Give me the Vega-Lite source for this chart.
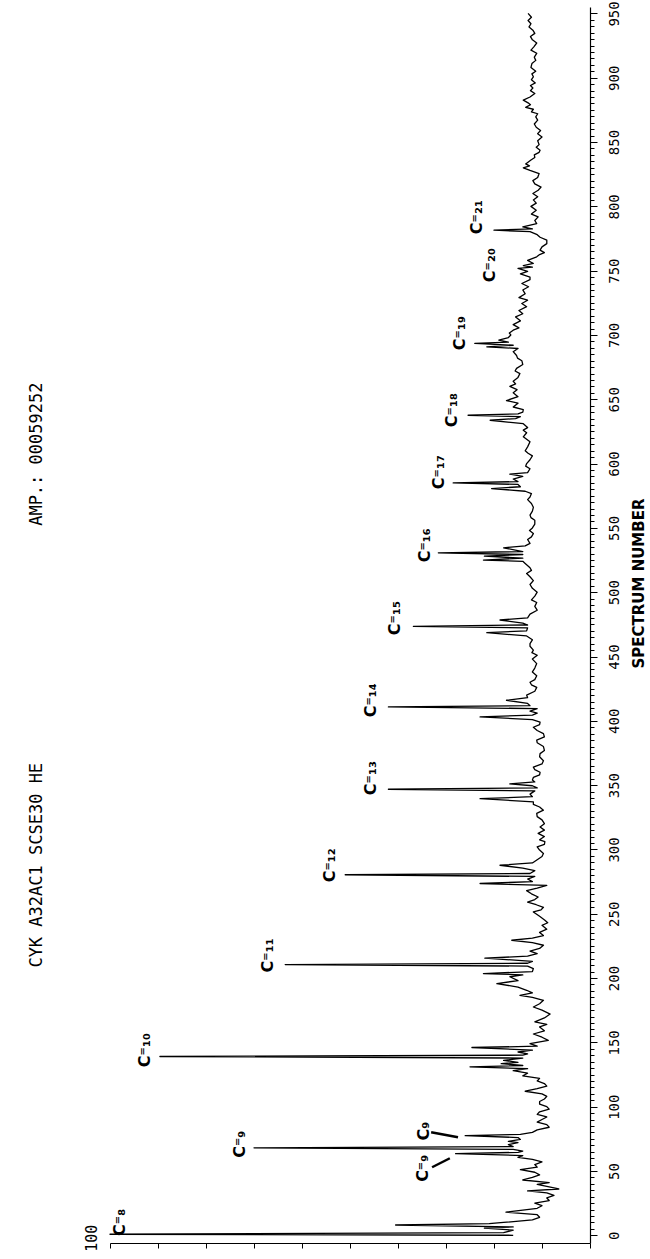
{
  "$schema": "https://vega.github.io/schema/vega-lite/v6.json",
  "width": 480,
  "height": 1236,
  "autosize": {"type": "none"},
  "padding": {"left": 110, "top": 7, "right": 60, "bottom": 16},
  "background": "white",
  "config": {
    "view": {"stroke": null},
    "axis": {"grid": false, "domainColor": "#000", "tickColor": "#000", "labelColor": "#000", "titleColor": "#000", "domainWidth": 1.2, "tickWidth": 1}
  },
  "datasets": {
    "trace": [
      {"spec": 0, "amp": 16}, {"spec": 0.8, "amp": 100}, {"spec": 2, "amp": 18}, {"spec": 4, "amp": 16},
      {"spec": 5.5, "amp": 22}, {"spec": 6.5, "amp": 16}, {"spec": 8, "amp": 40.5}, {"spec": 9, "amp": 21},
      {"spec": 10, "amp": 18}, {"spec": 12, "amp": 12}, {"spec": 14, "amp": 10.5}, {"spec": 16, "amp": 11},
      {"spec": 18, "amp": 17.5}, {"spec": 19.5, "amp": 14}, {"spec": 21, "amp": 11}, {"spec": 23, "amp": 10},
      {"spec": 25, "amp": 11.5}, {"spec": 27, "amp": 8.5}, {"spec": 29, "amp": 9}, {"spec": 31, "amp": 7.5},
      {"spec": 33, "amp": 9}, {"spec": 34.5, "amp": 13}, {"spec": 36, "amp": 6.5}, {"spec": 38, "amp": 9},
      {"spec": 39.5, "amp": 11}, {"spec": 41, "amp": 8.5}, {"spec": 43, "amp": 14}, {"spec": 45, "amp": 12},
      {"spec": 47, "amp": 10.5}, {"spec": 49, "amp": 11.5}, {"spec": 51, "amp": 14.5}, {"spec": 53, "amp": 11},
      {"spec": 55, "amp": 11.5}, {"spec": 57, "amp": 10}, {"spec": 59, "amp": 12}, {"spec": 60.5, "amp": 15},
      {"spec": 62, "amp": 14}, {"spec": 63.5, "amp": 28}, {"spec": 64.5, "amp": 15}, {"spec": 65.5, "amp": 14},
      {"spec": 66.8, "amp": 16}, {"spec": 68, "amp": 70}, {"spec": 69, "amp": 16}, {"spec": 70.5, "amp": 17},
      {"spec": 72, "amp": 15}, {"spec": 73, "amp": 17}, {"spec": 74.5, "amp": 14.5}, {"spec": 76, "amp": 15},
      {"spec": 77.5, "amp": 26}, {"spec": 78.5, "amp": 14.5}, {"spec": 80, "amp": 12}, {"spec": 82, "amp": 11},
      {"spec": 84, "amp": 8.5}, {"spec": 86, "amp": 9}, {"spec": 88, "amp": 11}, {"spec": 90, "amp": 10},
      {"spec": 92, "amp": 9}, {"spec": 94, "amp": 11}, {"spec": 96, "amp": 10.5}, {"spec": 98, "amp": 8.5},
      {"spec": 100, "amp": 9}, {"spec": 102, "amp": 10.5}, {"spec": 104, "amp": 10.5}, {"spec": 106, "amp": 9.5},
      {"spec": 108, "amp": 9}, {"spec": 110, "amp": 10}, {"spec": 112, "amp": 13.5}, {"spec": 114, "amp": 11},
      {"spec": 116, "amp": 9}, {"spec": 118, "amp": 9.5}, {"spec": 120, "amp": 11}, {"spec": 122, "amp": 10.5},
      {"spec": 124, "amp": 14}, {"spec": 126, "amp": 13}, {"spec": 128, "amp": 16}, {"spec": 129.5, "amp": 13},
      {"spec": 131, "amp": 25}, {"spec": 132, "amp": 14}, {"spec": 133.5, "amp": 18.5}, {"spec": 134.5, "amp": 15},
      {"spec": 136, "amp": 18}, {"spec": 137.8, "amp": 14}, {"spec": 139, "amp": 89.6}, {"spec": 140, "amp": 14},
      {"spec": 141, "amp": 13}, {"spec": 142.5, "amp": 15}, {"spec": 144, "amp": 12}, {"spec": 146, "amp": 24.6},
      {"spec": 147, "amp": 11}, {"spec": 149, "amp": 12.5}, {"spec": 151.5, "amp": 8.7}, {"spec": 154, "amp": 10},
      {"spec": 156.5, "amp": 11.8}, {"spec": 159, "amp": 9.5}, {"spec": 162, "amp": 10.5}, {"spec": 164, "amp": 9},
      {"spec": 166, "amp": 11.5}, {"spec": 169, "amp": 9.5}, {"spec": 172, "amp": 8.3}, {"spec": 175, "amp": 10},
      {"spec": 177.5, "amp": 11.8}, {"spec": 180, "amp": 10.5}, {"spec": 182.7, "amp": 9.7}, {"spec": 185, "amp": 12},
      {"spec": 186.6, "amp": 14.6}, {"spec": 188.5, "amp": 12}, {"spec": 190.5, "amp": 13.2}, {"spec": 193, "amp": 15},
      {"spec": 195.7, "amp": 19.4}, {"spec": 198, "amp": 15}, {"spec": 201, "amp": 16.7}, {"spec": 202.5, "amp": 14},
      {"spec": 203.5, "amp": 22.2}, {"spec": 205, "amp": 12}, {"spec": 207.4, "amp": 11.8}, {"spec": 209.3, "amp": 13},
      {"spec": 210.5, "amp": 63.5}, {"spec": 211.5, "amp": 13}, {"spec": 213, "amp": 12}, {"spec": 215.5, "amp": 21.9},
      {"spec": 217, "amp": 13}, {"spec": 219, "amp": 11}, {"spec": 221, "amp": 12.5}, {"spec": 223, "amp": 10.5},
      {"spec": 225.5, "amp": 9.7}, {"spec": 227.5, "amp": 12}, {"spec": 229.4, "amp": 16.3}, {"spec": 231, "amp": 12},
      {"spec": 233, "amp": 9.7}, {"spec": 235.5, "amp": 10.5}, {"spec": 238, "amp": 9}, {"spec": 241, "amp": 10},
      {"spec": 243, "amp": 8.8}, {"spec": 245, "amp": 9.4}, {"spec": 248, "amp": 10.5}, {"spec": 251.4, "amp": 11.8},
      {"spec": 253, "amp": 10.2}, {"spec": 255, "amp": 9.7}, {"spec": 257, "amp": 11.2}, {"spec": 259, "amp": 13},
      {"spec": 261, "amp": 11.5}, {"spec": 263, "amp": 10.8}, {"spec": 265.5, "amp": 12.2}, {"spec": 268, "amp": 13.2},
      {"spec": 270, "amp": 11}, {"spec": 272, "amp": 9}, {"spec": 273.5, "amp": 22.9}, {"spec": 275, "amp": 12},
      {"spec": 277, "amp": 13}, {"spec": 279, "amp": 11.5}, {"spec": 280.3, "amp": 51}, {"spec": 281.3, "amp": 12.5},
      {"spec": 283.5, "amp": 11.5}, {"spec": 285.5, "amp": 14}, {"spec": 287.7, "amp": 18.75}, {"spec": 289.5, "amp": 12},
      {"spec": 292, "amp": 11}, {"spec": 294.5, "amp": 10}, {"spec": 296.8, "amp": 9.7}, {"spec": 299.5, "amp": 10.5},
      {"spec": 302, "amp": 11}, {"spec": 304, "amp": 9.5}, {"spec": 306, "amp": 9.4}, {"spec": 307.5, "amp": 10.5},
      {"spec": 310, "amp": 9.5}, {"spec": 312.5, "amp": 10.8}, {"spec": 315, "amp": 9.5}, {"spec": 317.5, "amp": 10.4},
      {"spec": 320, "amp": 9.5}, {"spec": 323, "amp": 10}, {"spec": 325.5, "amp": 11}, {"spec": 328, "amp": 11.1},
      {"spec": 330.5, "amp": 9.7}, {"spec": 333, "amp": 10.5}, {"spec": 335, "amp": 11.8}, {"spec": 337, "amp": 11.8},
      {"spec": 339.5, "amp": 22.9}, {"spec": 341, "amp": 12}, {"spec": 343, "amp": 12.5}, {"spec": 345.5, "amp": 11.5},
      {"spec": 346.8, "amp": 42}, {"spec": 347.8, "amp": 11}, {"spec": 349.5, "amp": 12}, {"spec": 351, "amp": 16.7},
      {"spec": 352.5, "amp": 11.5}, {"spec": 354, "amp": 12}, {"spec": 356, "amp": 11.8}, {"spec": 358, "amp": 10.5},
      {"spec": 360, "amp": 10.4}, {"spec": 362, "amp": 11.5}, {"spec": 364, "amp": 11.8}, {"spec": 366.5, "amp": 10},
      {"spec": 369, "amp": 9.7}, {"spec": 372, "amp": 10.5}, {"spec": 374.5, "amp": 10.4}, {"spec": 377, "amp": 9.5},
      {"spec": 380, "amp": 9.7}, {"spec": 383, "amp": 11}, {"spec": 385, "amp": 11.1}, {"spec": 387.5, "amp": 9.5},
      {"spec": 390, "amp": 9.7}, {"spec": 392.5, "amp": 11}, {"spec": 395, "amp": 11.8}, {"spec": 397, "amp": 10.5},
      {"spec": 399, "amp": 10.4}, {"spec": 401, "amp": 12}, {"spec": 403, "amp": 22.9}, {"spec": 404.5, "amp": 12},
      {"spec": 406, "amp": 11}, {"spec": 407.5, "amp": 12.5}, {"spec": 409.5, "amp": 11}, {"spec": 410.8, "amp": 42},
      {"spec": 411.8, "amp": 12.5}, {"spec": 413.5, "amp": 13}, {"spec": 416, "amp": 17.4}, {"spec": 418, "amp": 13},
      {"spec": 420, "amp": 13.2}, {"spec": 423, "amp": 11.5}, {"spec": 426, "amp": 11.1}, {"spec": 428, "amp": 12.2},
      {"spec": 430, "amp": 12.5}, {"spec": 432, "amp": 11.5}, {"spec": 435, "amp": 11.1}, {"spec": 438, "amp": 12},
      {"spec": 441, "amp": 11.5}, {"spec": 444.5, "amp": 11.1}, {"spec": 448, "amp": 12}, {"spec": 451, "amp": 11},
      {"spec": 453, "amp": 12.1}, {"spec": 455, "amp": 11.8}, {"spec": 458, "amp": 12.5}, {"spec": 460, "amp": 12.5},
      {"spec": 463, "amp": 12}, {"spec": 466, "amp": 13.2}, {"spec": 468.5, "amp": 21.5}, {"spec": 470, "amp": 13.2},
      {"spec": 472.3, "amp": 13}, {"spec": 473.5, "amp": 36.8}, {"spec": 474.5, "amp": 13}, {"spec": 476, "amp": 14},
      {"spec": 478.4, "amp": 18.75}, {"spec": 480, "amp": 13}, {"spec": 483, "amp": 12.5}, {"spec": 486, "amp": 11},
      {"spec": 489, "amp": 11.5}, {"spec": 492, "amp": 11.1}, {"spec": 494, "amp": 12.2}, {"spec": 497, "amp": 11.5},
      {"spec": 500, "amp": 11}, {"spec": 503, "amp": 12}, {"spec": 506, "amp": 12.5}, {"spec": 509, "amp": 11.8},
      {"spec": 512, "amp": 12.5}, {"spec": 514.5, "amp": 13.2}, {"spec": 517, "amp": 12.2}, {"spec": 519, "amp": 12.5},
      {"spec": 522.3, "amp": 13.5}, {"spec": 524, "amp": 14}, {"spec": 525, "amp": 22.2}, {"spec": 526.5, "amp": 14},
      {"spec": 528, "amp": 22}, {"spec": 529.3, "amp": 14}, {"spec": 530.6, "amp": 31.6}, {"spec": 531.6, "amp": 14},
      {"spec": 534.5, "amp": 18}, {"spec": 536, "amp": 13.5}, {"spec": 538, "amp": 12.5}, {"spec": 541, "amp": 13},
      {"spec": 543, "amp": 12.2}, {"spec": 545.6, "amp": 11.8}, {"spec": 548, "amp": 12.6}, {"spec": 550, "amp": 12},
      {"spec": 553, "amp": 11.5}, {"spec": 556, "amp": 11.5}, {"spec": 558, "amp": 12.3}, {"spec": 560, "amp": 12.5},
      {"spec": 563, "amp": 12}, {"spec": 566, "amp": 11.8}, {"spec": 569, "amp": 12.2}, {"spec": 572, "amp": 13},
      {"spec": 574, "amp": 12.5}, {"spec": 576.7, "amp": 12.2}, {"spec": 578.5, "amp": 13.5}, {"spec": 580.6, "amp": 20.5},
      {"spec": 582, "amp": 14.5}, {"spec": 583.8, "amp": 15}, {"spec": 585, "amp": 28.5}, {"spec": 586, "amp": 15},
      {"spec": 588, "amp": 16}, {"spec": 590, "amp": 14}, {"spec": 591.8, "amp": 16.7}, {"spec": 593, "amp": 13},
      {"spec": 596, "amp": 12.5}, {"spec": 598, "amp": 13.4}, {"spec": 600, "amp": 13.2}, {"spec": 603, "amp": 12.5},
      {"spec": 606, "amp": 12}, {"spec": 608, "amp": 12.9}, {"spec": 610, "amp": 13.5}, {"spec": 613, "amp": 13},
      {"spec": 617, "amp": 12.5}, {"spec": 620.8, "amp": 13.9}, {"spec": 624, "amp": 13.2}, {"spec": 626, "amp": 13.9},
      {"spec": 628, "amp": 13}, {"spec": 631, "amp": 13.9}, {"spec": 633.7, "amp": 20.8}, {"spec": 635, "amp": 15.5},
      {"spec": 636.5, "amp": 14.5}, {"spec": 637.6, "amp": 25.4}, {"spec": 638.6, "amp": 15}, {"spec": 640, "amp": 14},
      {"spec": 642, "amp": 13.9}, {"spec": 644, "amp": 16}, {"spec": 647, "amp": 15}, {"spec": 649, "amp": 17.4},
      {"spec": 652, "amp": 15}, {"spec": 655, "amp": 16}, {"spec": 657.5, "amp": 15.2}, {"spec": 660, "amp": 16.7},
      {"spec": 662, "amp": 15.5}, {"spec": 664, "amp": 16}, {"spec": 667, "amp": 15}, {"spec": 670, "amp": 14.6},
      {"spec": 672, "amp": 15.6}, {"spec": 674, "amp": 15.3}, {"spec": 677, "amp": 14}, {"spec": 680, "amp": 14.2},
      {"spec": 682, "amp": 15.1}, {"spec": 684, "amp": 15.3}, {"spec": 687, "amp": 16}, {"spec": 689.5, "amp": 15},
      {"spec": 690.8, "amp": 21.5}, {"spec": 692, "amp": 16}, {"spec": 693.4, "amp": 24}, {"spec": 694.4, "amp": 17},
      {"spec": 696, "amp": 19}, {"spec": 698, "amp": 17}, {"spec": 700, "amp": 16.5}, {"spec": 701.5, "amp": 16.8},
      {"spec": 703.7, "amp": 16}, {"spec": 705.5, "amp": 14.8}, {"spec": 708, "amp": 16}, {"spec": 711, "amp": 14.5},
      {"spec": 714, "amp": 15.5}, {"spec": 716.5, "amp": 14}, {"spec": 719, "amp": 14.8}, {"spec": 722, "amp": 13.2},
      {"spec": 724.5, "amp": 14.2}, {"spec": 727, "amp": 13}, {"spec": 729, "amp": 14.8}, {"spec": 732, "amp": 13.5},
      {"spec": 735, "amp": 14}, {"spec": 737.5, "amp": 12.8}, {"spec": 740, "amp": 14.2}, {"spec": 743, "amp": 12.5},
      {"spec": 745, "amp": 12.5}, {"spec": 747.5, "amp": 14.5}, {"spec": 749.5, "amp": 13}, {"spec": 751.7, "amp": 15},
      {"spec": 752.7, "amp": 12}, {"spec": 754, "amp": 13.9}, {"spec": 755.6, "amp": 11.8}, {"spec": 758, "amp": 13},
      {"spec": 760.8, "amp": 11.1}, {"spec": 762.5, "amp": 10.5}, {"spec": 764, "amp": 9.5}, {"spec": 766, "amp": 10.4},
      {"spec": 768.5, "amp": 10}, {"spec": 771, "amp": 9}, {"spec": 773.7, "amp": 9}, {"spec": 776, "amp": 10.4},
      {"spec": 778, "amp": 11}, {"spec": 780.3, "amp": 12.5}, {"spec": 781.5, "amp": 20}, {"spec": 782.5, "amp": 12},
      {"spec": 784, "amp": 14}, {"spec": 786.6, "amp": 11.1}, {"spec": 789, "amp": 11.5}, {"spec": 791.8, "amp": 10.8},
      {"spec": 794, "amp": 12.2}, {"spec": 797, "amp": 11.2}, {"spec": 800, "amp": 12.3}, {"spec": 802.5, "amp": 11.2},
      {"spec": 805, "amp": 11.8}, {"spec": 807.5, "amp": 10.9}, {"spec": 810, "amp": 11.9}, {"spec": 812.5, "amp": 10.8},
      {"spec": 815, "amp": 10.2}, {"spec": 817.5, "amp": 11.5}, {"spec": 820, "amp": 11.9}, {"spec": 822.5, "amp": 10.9},
      {"spec": 825.5, "amp": 10.6}, {"spec": 828, "amp": 12.5}, {"spec": 830, "amp": 13.9}, {"spec": 831.5, "amp": 12.6},
      {"spec": 833, "amp": 13.4}, {"spec": 836, "amp": 12.3}, {"spec": 838, "amp": 11.5}, {"spec": 840, "amp": 11.6},
      {"spec": 842, "amp": 10.6}, {"spec": 843.7, "amp": 10.4}, {"spec": 846, "amp": 11.2}, {"spec": 848, "amp": 10.6},
      {"spec": 851, "amp": 10.9}, {"spec": 854, "amp": 10}, {"spec": 856.5, "amp": 10.9}, {"spec": 859, "amp": 10.3},
      {"spec": 861.5, "amp": 11.2}, {"spec": 864, "amp": 11.6}, {"spec": 867, "amp": 10.9}, {"spec": 869.6, "amp": 11.3},
      {"spec": 872, "amp": 10.9}, {"spec": 873.5, "amp": 12.2}, {"spec": 875.5, "amp": 11.8}, {"spec": 877, "amp": 13.4},
      {"spec": 879, "amp": 12.4}, {"spec": 880.5, "amp": 12.9}, {"spec": 882.6, "amp": 13.9}, {"spec": 885, "amp": 12.5},
      {"spec": 887.8, "amp": 11.5}, {"spec": 890, "amp": 12.4}, {"spec": 892, "amp": 11.9}, {"spec": 894, "amp": 12.4},
      {"spec": 896, "amp": 11.4}, {"spec": 898.5, "amp": 12.2}, {"spec": 900.7, "amp": 11.8}, {"spec": 903, "amp": 12.1},
      {"spec": 905, "amp": 11.3}, {"spec": 908, "amp": 12.3}, {"spec": 911, "amp": 12.1}, {"spec": 913.5, "amp": 11.3},
      {"spec": 916, "amp": 11.6}, {"spec": 919, "amp": 11.1}, {"spec": 921.5, "amp": 12.3}, {"spec": 924, "amp": 11.7},
      {"spec": 927, "amp": 11.1}, {"spec": 929.5, "amp": 12}, {"spec": 932, "amp": 12.4}, {"spec": 934.5, "amp": 11.5},
      {"spec": 937, "amp": 11.9}, {"spec": 939.5, "amp": 12.7}, {"spec": 942, "amp": 12.3}, {"spec": 944.5, "amp": 12.9},
      {"spec": 947, "amp": 12.2}, {"spec": 950, "amp": 12.9}
    ],
    "labels": [
      {"label": "C⁼₈", "amp": 97.9, "spec": 10.1},
      {"label": "C⁼₉", "amp": 72.9, "spec": 70.8},
      {"label": "C⁼₁₀", "amp": 92.7, "spec": 143.9},
      {"label": "C⁼₁₁", "amp": 67.1, "spec": 217.7},
      {"label": "C⁼₁₂", "amp": 54.2, "spec": 287.7},
      {"label": "C⁼₁₃", "amp": 45.6, "spec": 355.4},
      {"label": "C⁼₁₄", "amp": 45.6, "spec": 416},
      {"label": "C⁼₁₅", "amp": 40.6, "spec": 479.8},
      {"label": "C⁼₁₆", "amp": 34.4, "spec": 536.5},
      {"label": "C⁼₁₇", "amp": 31.5, "spec": 593.3},
      {"label": "C⁼₁₈", "amp": 28.75, "spec": 641.5},
      {"label": "C⁼₁₉", "amp": 27.1, "spec": 701.4},
      {"label": "C⁼₂₀", "amp": 20.8, "spec": 754.3},
      {"label": "C⁼₂₁", "amp": 23.5, "spec": 791.6},
      {"label": "C⁼₉", "amp": 34.8, "spec": 52.1},
      {"label": "C₉", "amp": 34.6, "spec": 80.9}
    ],
    "arrows": [
      {"amp": 32.9, "spec": 52.9, "amp2": 29.2, "spec2": 59.9},
      {"amp": 33.1, "spec": 80.1, "amp2": 27.5, "spec2": 76.2}
    ],
    "header": [
      {"label": "CYK A32AC1 SCSE30 HE", "amp": 115.2, "spec": 287.7},
      {"label": "AMP.: 00059252", "amp": 115.2, "spec": 607.3}
    ],
    "scalelabel": [
      {"label": "100", "amp": 100, "spec": -2.3}
    ]
  },
  "encoding": {
    "x": {
      "field": "amp", "type": "quantitative",
      "scale": {"domain": [0, 100], "reverse": true, "nice": false, "zero": false},
      "axis": {"orient": "bottom", "values": [0, 10, 20, 30, 40, 50, 60, 70, 80, 90, 100], "labels": false, "tickSize": 5, "title": null}
    },
    "y": {
      "field": "spec", "type": "quantitative",
      "scale": {"domain": [-6, 955], "nice": false, "zero": false},
      "axis": {
        "orient": "right",
        "values": [0,5,10,15,20,25,30,35,40,45,50,55,60,65,70,75,80,85,90,95,100,105,110,115,120,125,130,135,140,145,150,155,160,165,170,175,180,185,190,195,200,205,210,215,220,225,230,235,240,245,250,255,260,265,270,275,280,285,290,295,300,305,310,315,320,325,330,335,340,345,350,355,360,365,370,375,380,385,390,395,400,405,410,415,420,425,430,435,440,445,450,455,460,465,470,475,480,485,490,495,500,505,510,515,520,525,530,535,540,545,550,555,560,565,570,575,580,585,590,595,600,605,610,615,620,625,630,635,640,645,650,655,660,665,670,675,680,685,690,695,700,705,710,715,720,725,730,735,740,745,750,755,760,765,770,775,780,785,790,795,800,805,810,815,820,825,830,835,840,845,850,855,860,865,870,875,880,885,890,895,900,905,910,915,920,925,930,935,940,945,950],
        "labelExpr": "datum.value % 50 === 0 ? datum.label : ''",
        "labelOverlap": false,
        "labelBound": false,
        "labelFlush": false,
        "tickSize": {"condition": {"test": "datum.value % 50 === 0", "value": 7}, "value": 4},
        "labelAngle": 270,
        "labelAlign": "center",
        "labelBaseline": "top",
        "labelPadding": 10,
        "labelFont": "DejaVu Sans Mono",
        "labelFontSize": 14,
        "title": "SPECTRUM   NUMBER",
        "titleFont": "DejaVu Sans",
        "titleFontWeight": "bold",
        "titleFontSize": 15,
        "titleAngle": 270,
        "titleAlign": "center",
        "titleBaseline": "top",
        "titleX": 41,
        "titleY": 576
      }
    }
  },
  "layer": [
    {
      "data": {"name": "trace"},
      "mark": {"type": "line", "color": "#000", "strokeWidth": 1.3, "strokeJoin": "round"},
      "encoding": {"order": {"field": "spec", "type": "quantitative"}}
    },
    {
      "data": {"name": "labels"},
      "mark": {"type": "text", "angle": 270, "font": "DejaVu Sans", "fontWeight": "bold", "fontSize": 16, "align": "center", "baseline": "middle", "color": "#000"},
      "encoding": {"text": {"field": "label"}}
    },
    {
      "data": {"name": "arrows"},
      "mark": {"type": "rule", "strokeWidth": 2.5, "color": "#000"},
      "encoding": {"x2": {"field": "amp2"}, "y2": {"field": "spec2"}}
    },
    {
      "data": {"name": "header"},
      "mark": {"type": "text", "angle": 270, "font": "DejaVu Sans Mono", "fontSize": 17, "align": "center", "baseline": "middle", "color": "#000"},
      "encoding": {"text": {"field": "label"}}
    },
    {
      "data": {"name": "scalelabel"},
      "mark": {"type": "text", "angle": 270, "font": "DejaVu Sans Mono", "fontSize": 15, "align": "center", "baseline": "bottom", "dy": -10, "color": "#000"},
      "encoding": {"text": {"field": "label"}}
    }
  ]
}
